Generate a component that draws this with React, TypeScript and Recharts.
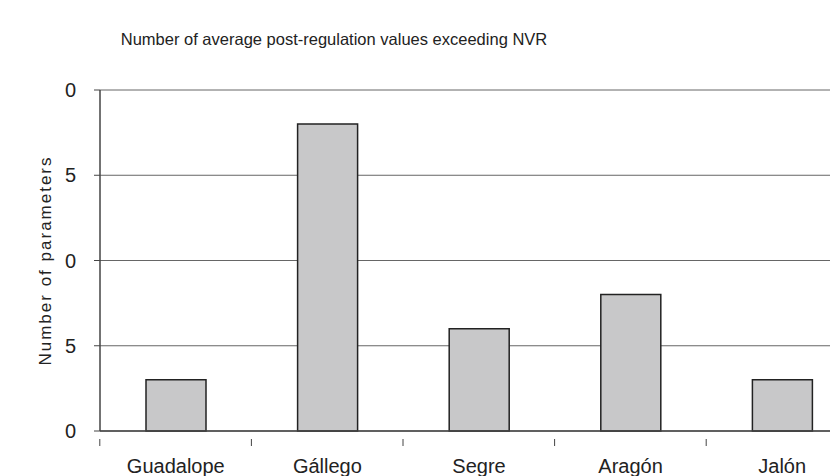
import React from 'react';
import { BarChart, Bar, XAxis, YAxis, CartesianGrid, Label } from 'recharts';

const rivers = ['Guadalope', 'Gállego', 'Segre', 'Aragón', 'Jalón'];
const parameters = [3, 18, 6, 8, 3];
const yTicks = [0, 5, 10, 15, 20];
const yTickLabels = ['0', '5', '0', '5', '0'];

const BAND = 152;
const FONT = '"Liberation Sans", Arial, sans-serif';

const chartData = rivers.map((name, i) => ({ name, value: parameters[i] }));

const RiverTick = (props: any) => {
  const { x, y, payload } = props;
  return (
    <g>
      <line x1={x - BAND / 2} y1={y} x2={x - BAND / 2} y2={y + 7} stroke="#444" strokeWidth={1} />
      <text x={x} y={y + 34} textAnchor="middle" fontFamily={FONT} fontSize={20} fill="#222">
        {payload.value}
      </text>
    </g>
  );
};

export default function App() {
  return (
    <div
      style={{
        marginTop: -8,
        marginLeft: -8,
        marginBottom: 0,
        width: 838,
        height: 476,
        overflow: 'hidden',
        position: 'relative',
        background: '#fff',
      }}
    >
      <div
        style={{
          position: 'absolute',
          left: 0,
          top: 30,
          width: 668,
          textAlign: 'center',
          fontFamily: FONT,
          fontSize: 16.5,
          color: '#222',
        }}
      >
        Number of average post-regulation values exceeding NVR
      </div>
      <BarChart
        width={858}
        height={476}
        data={chartData}
        margin={{ top: 90, right: 0, bottom: 0, left: 0 }}
        barSize={60}
      >
        <CartesianGrid vertical={false} stroke="#666" strokeWidth={1} />
        <XAxis
          dataKey="name"
          height={45}
          axisLine={{ stroke: '#444', strokeWidth: 1.5 }}
          tickLine={false}
          tick={<RiverTick />}
          interval={0}
        />
        <YAxis
          width={100}
          domain={[0, 20]}
          ticks={yTicks}
          interval={0}
          axisLine={{ stroke: '#444', strokeWidth: 1.5 }}
          tickLine={{ stroke: '#444' }}
          tickSize={6}
          tickMargin={18}
          tickFormatter={(v: number) => yTickLabels[yTicks.indexOf(v)]}
          tick={{ fontFamily: FONT, fontSize: 20, fill: '#222' }}
        >
          <Label
            value="Number of parameters"
            angle={-90}
            position="insideLeft"
            offset={45}
            style={{ fontFamily: FONT, fontSize: 17, fill: '#222', letterSpacing: 2, textAnchor: 'middle' }}
          />
        </YAxis>
        <Bar dataKey="value" fill="#c8c8c9" stroke="#222" strokeWidth={1.5} isAnimationActive={false} />
      </BarChart>
    </div>
  );
}
